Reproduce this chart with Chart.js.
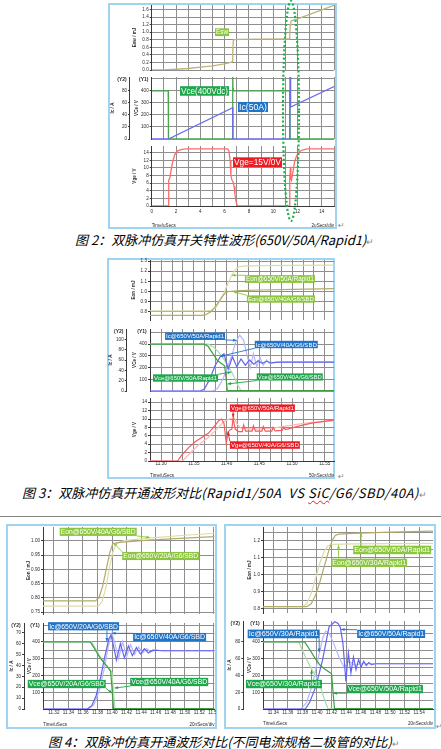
<!DOCTYPE html>
<html><head><meta charset="utf-8">
<script src="https://cdn.jsdelivr.net/npm/chart.js@4"></script>
<style>
html,body{margin:0;padding:0;background:#fff;}
body{position:relative;width:441px;height:749px;overflow:hidden;}
.box{position:absolute;border:2px solid #9fd4f0;box-sizing:border-box;}
canvas{position:absolute;}
.cap{position:absolute;white-space:nowrap;font-family:"Noto Sans CJK SC",sans-serif;font-style:italic;font-size:13px;line-height:16px;color:#000;}
.ret{position:absolute;color:#8a8a8a;font-style:normal;font-family:"DejaVu Sans",sans-serif;font-size:8px;line-height:8px;}
.sep{position:absolute;left:0;width:441px;height:1px;background:#858585;}
.wavy{text-decoration:underline wavy #e02020;text-decoration-thickness:1px;text-underline-offset:2px;}
</style></head><body>
<div class="box" style="left:108px;top:3px;width:229px;height:226px;"></div>
<div class="box" style="left:107px;top:258px;width:228px;height:221px;"></div>
<div class="sep" style="top:516px;"></div>
<div class="box" style="left:6px;top:524px;width:211px;height:205px;"></div>
<div class="box" style="left:224px;top:524px;width:212px;height:205px;"></div>
<div class="cap" style="left:75px;top:232px;">图 2：双脉冲仿真开关特性波形(650V/50A/Rapid1)<span style="font-style:normal;color:#888;font-size:9px;">↵</span></div>
<div class="cap" style="left:22px;top:485px;">图 3：双脉冲仿真开通波形对比<span style="letter-spacing:0.55px;">(Rapid1/50A&nbsp; VS <span class="wavy">SiC</span>/G6/SBD/40A)</span><span style="font-style:normal;color:#888;font-size:9px;">↵</span></div>
<div class="cap" style="left:48px;top:734px;">图 4：双脉冲仿真开通波形对比(不同电流规格二极管的对比)<span style="font-style:normal;color:#888;font-size:9px;">↵</span></div>
<div class="ret" style="left:338px;top:222px;">↵</div>
<div class="ret" style="left:338px;top:473px;">↵</div>
<div class="ret" style="left:436px;top:723px;">↵</div>
<script>
// ================= DATA =================
// ---- Figure 2 : time in µs ----
const f2EswT = [0, 1, 2, 3, 4, 5, 6, 6.5, 6.62, 6.67, 6.72, 7, 9, 11.3, 11.36, 11.4, 11.45, 11.5, 12, 13, 14, 15];
const f2Esw  = [0, 0.005, 0.02, 0.04, 0.075, 0.11, 0.16, 0.2, 0.22, 0.5, 0.8, 0.81, 0.815, 0.82, 0.9, 1.2, 1.28, 1.3, 1.35, 1.47, 1.59, 1.71];
const f2VceT = [0, 1.36, 1.38, 6.65, 6.67, 6.69, 6.72, 11.37, 11.39, 15];
const f2Vce  = [400, 400, 0, 0, 515, 420, 400, 400, 0, 0];
const f2IcT  = [0, 1.38, 6.66, 6.68, 11.36, 11.38, 11.41, 11.45, 15];
const f2Ic   = [0, 0, 52, 0, 0, 103, 56, 53, 87];
const f2VgeT = [0, 1.35, 1.38, 1.42, 1.5, 1.6, 1.75, 1.9, 2.1, 2.4, 2.8, 6.25, 6.35, 6.45, 6.52, 6.6, 6.7, 6.78, 6.85, 6.95, 7.05, 11.32, 11.36, 11.42, 11.45, 11.5, 11.6, 11.75, 11.9, 12.1, 12.4, 12.8, 15];
const f2Vge  = [0, 0, 6.3, 6.8, 7.5, 9.5, 12, 13.5, 14.4, 14.8, 15, 15, 14.5, 12, 8, 6.8, 6.3, 5.2, 3, 1, 0, 0, 7.5, 10.3, 7.2, 6.8, 8.5, 11.5, 13, 14.2, 14.7, 15, 15];
const f2MarkT = 11.46;   // dotted ellipse centre (µs)

// ---- Figure 3 : Rapid1/50A vs SiC G6/SBD/40A ----
const f3EonRT = [11.283, 11.37, 11.376, 11.384, 11.392, 11.40, 11.407, 11.413, 11.418, 11.425, 11.45, 11.5, 11.564];
const f3EonR  = [0.81, 0.81, 0.815, 0.845, 0.93, 1.05, 1.15, 1.21, 1.24, 1.25, 1.255, 1.258, 1.26];
const f3EonGT = [11.283, 11.362, 11.368, 11.376, 11.384, 11.392, 11.398, 11.403, 11.42, 11.45, 11.5, 11.564];
const f3EonG  = [0.765, 0.765, 0.772, 0.8, 0.86, 0.94, 0.985, 1.0, 1.008, 1.015, 1.022, 1.028];
const f3VceRT = [11.283, 11.372, 11.38, 11.388, 11.396, 11.402, 11.408, 11.413, 11.418, 11.422, 11.564];
const f3VceR  = [400, 400, 375, 330, 270, 215, 160, 100, 40, 4, 4];
const f3VceGT = [11.283, 11.366, 11.372, 11.379, 11.386, 11.392, 11.397, 11.399, 11.401, 11.564];
const f3VceG  = [400, 400, 380, 320, 260, 235, 215, 120, 3, 3];
const f3IcRT  = [11.283, 11.378, 11.386, 11.394, 11.401, 11.408, 11.414, 11.42, 11.426, 11.431, 11.436, 11.441, 11.446, 11.451, 11.456, 11.461, 11.466, 11.475, 11.564];
const f3IcR   = [0, 0, 5, 22, 45, 69, 95, 108, 98, 70, 45, 72, 47, 65, 50, 60, 53, 56, 56];
const f3IcGT  = [11.283, 11.36, 11.366, 11.374, 11.382, 11.39, 11.396, 11.4025, 11.409, 11.4155, 11.422, 11.4285, 11.435, 11.4415, 11.448, 11.4545, 11.461, 11.4675, 11.48, 11.564];
const f3IcG   = [0, 0, 4, 22, 48, 66, 72, 42, 66, 47, 62, 50, 60, 52, 58.5, 53.5, 57.5, 54.5, 56, 56];
const f3VgeRT = [11.283, 11.333, 11.34, 11.35, 11.36, 11.372, 11.385, 11.396, 11.404, 11.412, 11.416, 11.422, 11.44, 11.47, 11.49, 11.51, 11.53, 11.564];
const f3VgeR  = [0, 0, 1.2, 2.8, 4.2, 5.6, 7.6, 9.4, 10.0, 10.2, 8.8, 7.8, 7.6, 7.8, 8.3, 8.8, 9.2, 9.5];
const f3VgeGT = [11.283, 11.325, 11.332, 11.342, 11.352, 11.362, 11.372, 11.38, 11.388, 11.392, 11.396, 11.3995, 11.402, 11.405, 11.408, 11.41, 11.413, 11.418, 11.424, 11.426, 11.429, 11.439, 11.441, 11.444, 11.454, 11.456, 11.459, 11.469, 11.471, 11.474, 11.485, 11.487, 11.49, 11.51, 11.53, 11.564];
const f3VgeG  = [0, 0, 1.5, 3.2, 4.6, 5.6, 6.6, 8.0, 9.6, 10.0, 9.0, 4.2, 6.8, 7.4, 7.6, 10.3, 7.6, 7.0, 7.0, 8.6, 7.1, 7.1, 8.4, 7.1, 7.1, 8.2, 7.1, 7.1, 8.0, 7.2, 7.3, 8.0, 7.5, 8.3, 9.0, 9.8];

// ---- Figure 4 left : G6/SBD 20A vs 40A ----
const f4aEon20T = [11.305, 11.377, 11.382, 11.387, 11.392, 11.397, 11.401, 11.41, 11.45, 11.5, 11.541];
const f4aEon20  = [0.789, 0.789, 0.80, 0.84, 0.9, 0.96, 0.99, 0.995, 1.003, 1.01, 1.015];
const f4aEon40T = [11.305, 11.381, 11.386, 11.391, 11.396, 11.401, 11.406, 11.415, 11.45, 11.5, 11.541];
const f4aEon40  = [0.771, 0.771, 0.785, 0.83, 0.9, 0.96, 0.99, 1.0, 1.01, 1.02, 1.027];
const f4aVce20T = [11.305, 11.37, 11.376, 11.382, 11.388, 11.394, 11.398, 11.4, 11.402, 11.541];
const f4aVce20  = [400, 400, 360, 315, 280, 250, 225, 120, 2, 2];
const f4aVce40T = [11.305, 11.372, 11.378, 11.384, 11.39, 11.396, 11.4, 11.402, 11.404, 11.541];
const f4aVce40  = [400, 400, 355, 310, 272, 242, 218, 100, 2, 2];
const f4aIc20T  = [11.305, 11.366, 11.372, 11.378, 11.384, 11.39, 11.3955, 11.3985, 11.402, 11.406, 11.4115, 11.417, 11.4225, 11.428, 11.4335, 11.439, 11.4445, 11.45, 11.456, 11.47, 11.541];
const f4aIc20   = [0, 0, 3, 12, 28, 48, 64, 68, 58, 45, 60, 47, 58, 49, 56.5, 50.5, 55.5, 51.5, 54, 53.5, 53.5];
const f4aIc40T  = [11.305, 11.368, 11.375, 11.382, 11.389, 11.395, 11.4, 11.404, 11.409, 11.4145, 11.42, 11.4255, 11.431, 11.4365, 11.442, 11.4475, 11.453, 11.46, 11.47, 11.541];
const f4aIc40   = [0, 0, 4, 16, 36, 58, 70, 60, 46, 62, 48, 59, 50, 57, 51.5, 55.5, 52.5, 54, 53.5, 53.5];

// ---- Figure 4 right : Rapid1 30A vs 50A ----
const f4bEon50T = [11.326, 11.386, 11.392, 11.398, 11.404, 11.41, 11.416, 11.421, 11.425, 11.43, 11.45, 11.5, 11.559];
const f4bEon50  = [0.813, 0.813, 0.83, 0.88, 0.96, 1.05, 1.14, 1.205, 1.232, 1.24, 1.245, 1.252, 1.258];
const f4bEon30T = [11.326, 11.38, 11.386, 11.392, 11.398, 11.404, 11.41, 11.415, 11.42, 11.45, 11.559];
const f4bEon30  = [0.813, 0.813, 0.83, 0.89, 0.98, 1.07, 1.14, 1.17, 1.18, 1.183, 1.186];
const f4bVce50T = [11.326, 11.383, 11.39, 11.397, 11.404, 11.41, 11.416, 11.42, 11.422, 11.424, 11.559];
const f4bVce50  = [400, 400, 355, 305, 262, 240, 222, 210, 100, 2, 2];
const f4bVce30T = [11.326, 11.375, 11.381, 11.387, 11.393, 11.399, 11.405, 11.41, 11.415, 11.559];
const f4bVce30  = [400, 400, 340, 285, 235, 190, 130, 60, 2, 2];
const f4bIc50T  = [11.326, 11.384, 11.39, 11.3985, 11.4075, 11.4165, 11.4245, 11.429, 11.432, 11.4355, 11.4396, 11.443, 11.4465, 11.45, 11.4535, 11.457, 11.4605, 11.464, 11.4675, 11.471, 11.4745, 11.48, 11.559];
const f4bIc50   = [0, 0, 8, 27, 58, 98, 104, 102, 97, 79, 33, 67, 43, 62, 47, 59, 50, 57, 52, 55.5, 53, 54, 54];
const f4bIc30T  = [11.326, 11.378, 11.386, 11.394, 11.402, 11.408, 11.412, 11.417, 11.423, 11.43, 11.437, 11.444, 11.452, 11.46, 11.559];
const f4bIc30   = [0, 0, 8, 30, 62, 85, 93, 90, 78, 62, 50, 57, 52, 54, 54];

// ================= STYLE / HELPERS =================
const FONT = "'Liberation Sans', Arial, sans-serif";
const GRID = '#8e8e8e', AXIS = '#3a3a3a', TXT = '#2a2a2a', NONE = 'rgba(0,0,0,0)';
const C = { eonD:'#b3ab6a', eonL:'#dcdcaa', vceD:'#3f9e45', vceL:'#a8dca8', icD:'#6464f2', icL:'#b6b6fc', vgeD:'#f25c5c', vgeL:'#ffb6b6',
            lgE:'#8cc63f', lgV:'#1ea64b', lgI:'#2274c6', lgG:'#ec1c24' };
const TS = 4.6;

Chart.defaults.animation = false;
Chart.defaults.responsive = false;
Chart.defaults.devicePixelRatio = 1;
Chart.defaults.font.family = FONT;
Chart.defaults.events = [];
Chart.defaults.plugins.legend.display = false;
Chart.defaults.plugins.tooltip.enabled = false;

const near = (v, base, step) => { const q = (v - base) / step; return Math.abs(q - Math.round(q)) < 1e-4; };
const pts = (t, v) => t.map((x, i) => ({ x, y: v[i] }));

function collect(min, max, base, step, set) {
  let k = Math.ceil((min - base) / step - 1e-6);
  for (let v = base + k * step; v <= max + 1e-9; v = base + (++k) * step) set.add(+v.toFixed(6));
}

function xAx(o) {
  return {
    type: 'linear', min: o.min, max: o.max, bounds: 'data',
    afterBuildTicks: s => {
      const set = new Set();
      collect(o.min, o.max, o.gridBase, o.gridStep, set);
      if (o.show) collect(o.min, o.max, o.labelBase, o.labelStep, set);
      s.ticks = [...set].sort((a, b) => a - b).map(v => ({ value: v }));
    },
    afterFit: s => { s.height = o.height; s.paddingLeft = 0; s.paddingRight = 0; },
    grid: { color: c => (c.tick && near(c.tick.value, o.gridBase, o.gridStep)) ? GRID : NONE, lineWidth: 1, drawTicks: false },
    border: { display: !!o.show, color: AXIS },
    ticks: { display: !!o.show, autoSkip: false, maxRotation: 0, padding: o.pad || 0, font: { size: TS }, color: TXT,
      callback: v => near(v, o.labelBase, o.labelStep) ? (+v).toFixed(o.dec) : '' }
  };
}

function yAx(o) {
  const isLab = v => near(v, 0, o.labelStep) && v >= o.lmin - 1e-9 && v <= o.lmax + 1e-9;
  return {
    type: 'linear', position: 'left', min: o.min, max: o.max, bounds: 'data', weight: o.weight || 0,
    afterBuildTicks: s => {
      const set = new Set();
      collect(o.min, o.max, 0, o.gridStep, set);
      collect(o.min, o.max, 0, o.labelStep, set);
      s.ticks = [...set].sort((a, b) => a - b).map(v => ({ value: v }));
    },
    afterFit: s => { s.width = o.width; s.paddingTop = 0; s.paddingBottom = 0; },
    grid: { drawOnChartArea: o.grid !== false, lineWidth: 1, drawTicks: true, tickLength: 2,
      color: c => (c.tick && near(c.tick.value, 0, o.gridStep)) ? GRID : NONE,
      tickColor: c => (c.tick && isLab(c.tick.value)) ? AXIS : NONE },
    border: { display: true, color: AXIS },
    ticks: { padding: 1, autoSkip: false, font: { size: TS }, color: TXT,
      callback: v => isLab(v) ? (+v).toFixed(o.dec || 0) : '' },
    title: { display: true, text: o.title, color: TXT, font: { size: TS, weight: 'bold' }, padding: { top: o.tpad, bottom: 0 } }
  };
}

const annoPlugin = {
  id: 'anno',
  afterDatasetsDraw(chart, args, opts) {
    const ctx = chart.ctx;
    (opts.labels || []).forEach(L => {
      const xs = chart.scales.x, ys = chart.scales[L.axis || 'y'];
      ctx.save();
      ctx.font = `10px ${FONT}`;
      const size = 10 * (L.w - 2) / ctx.measureText(L.text).width;
      const h = size + 1.4;
      const x0 = xs.getPixelForValue(L.x), yc = ys.getPixelForValue(L.y), y0 = yc - h / 2;
      if (L.tx !== undefined) {
        const tx = xs.getPixelForValue(L.tx), ty = ys.getPixelForValue(L.ty);
        const sx = Math.min(Math.max(tx, x0), x0 + L.w), sy = Math.min(Math.max(ty, y0), y0 + h);
        const a = Math.atan2(ty - sy, tx - sx);
        ctx.strokeStyle = L.bg; ctx.fillStyle = L.bg; ctx.lineWidth = 0.9;
        ctx.beginPath(); ctx.moveTo(sx, sy); ctx.lineTo(tx, ty); ctx.stroke();
        ctx.beginPath(); ctx.moveTo(tx, ty);
        ctx.lineTo(tx - 3.5 * Math.cos(a) + 1.5 * Math.sin(a), ty - 3.5 * Math.sin(a) - 1.5 * Math.cos(a));
        ctx.lineTo(tx - 3.5 * Math.cos(a) - 1.5 * Math.sin(a), ty - 3.5 * Math.sin(a) + 1.5 * Math.cos(a));
        ctx.closePath(); ctx.fill();
      }
      ctx.fillStyle = L.bg; ctx.fillRect(x0, y0, L.w, h);
      ctx.fillStyle = '#ffffff'; ctx.font = `${size}px ${FONT}`;
      ctx.textAlign = 'center'; ctx.textBaseline = 'middle';
      ctx.fillText(L.text, x0 + L.w / 2, yc + 0.4);
      ctx.restore();
    });
  }
};
const hdrPlugin = {
  id: 'hdr',
  afterDraw(chart, args, opts) {
    const ctx = chart.ctx;
    (opts.items || []).forEach(it => {
      const s = chart.scales[it.axis];
      ctx.save(); ctx.font = `bold 5px ${FONT}`; ctx.fillStyle = TXT; ctx.textAlign = 'center'; ctx.textBaseline = 'middle';
      ctx.fillText(it.text, s.right - 8, chart.chartArea.top + 3);
      ctx.restore();
    });
  }
};
const footPlugin = {
  id: 'foot',
  afterDraw(chart, args, opts) {
    if (!opts.left) return;
    const ctx = chart.ctx, a = chart.chartArea;
    ctx.save(); ctx.font = `${TS}px ${FONT}`; ctx.fillStyle = TXT; ctx.textBaseline = 'middle';
    ctx.textAlign = 'left'; ctx.fillText(opts.left, a.left, a.bottom + opts.off);
    ctx.textAlign = 'right'; ctx.fillText(opts.right, a.right, a.bottom + opts.off);
    ctx.restore();
  }
};
Chart.register(annoPlugin, hdrPlugin, footPlugin);

function mkCanvas(l, t, r, b) {
  const c = document.createElement('canvas');
  const w = r - l, h = b - t;
  c.width = w; c.height = h;
  c.style.left = l + 'px'; c.style.top = t + 'px'; c.style.width = w + 'px'; c.style.height = h + 'px';
  document.body.appendChild(c);
  return c;
}

function panel(p) {
  const [cl, ct, cr, cb] = p.canvas;
  const cv = mkCanvas(cl, ct, cr, cb);
  const yw = p.ys.reduce((s, y) => s + y.width, 0);
  const scales = { x: xAx(p.x) };
  p.ys.forEach(y => { scales[y.id] = yAx(y); });
  const padding = { left: p.area[0] - cl - yw, top: p.area[1] - ct, right: cr - p.area[2], bottom: cb - p.area[3] - p.x.height };
  const chart = new Chart(cv, {
    type: 'line',
    data: { datasets: p.series.map(s => ({ data: pts(s.t, s.v), yAxisID: s.axis || 'y', borderColor: s.color,
      borderWidth: s.bw || 1.2, pointRadius: 0, tension: 0, fill: false })) },
    options: { layout: { padding }, scales,
      plugins: { anno: { labels: p.labels || [] }, hdr: { items: p.hdr || [] }, foot: p.foot || {} } }
  });
  return { chart, cl, ct };
}

// ================= FIGURE 2 =================
const x2 = { min: 0, max: 15, gridBase: 0, gridStep: 1, labelBase: 0, labelStep: 2, dec: 0, height: 0 };
const f2top = panel({
  canvas: [108, 3, 337, 73], area: [151.7, 5, 334, 70], x: x2,
  ys: [{ id: 'y', min: 0, max: 1.72, gridStep: 0.2, labelStep: 0.2, lmin: 0, lmax: 1.6, dec: 1, width: 22, title: 'Esw / mJ', tpad: 2.5 }],
  series: [{ t: f2EswT, v: f2Esw, color: '#bdb47a', bw: 1.3 }],
  labels: [{ text: 'Esw', x: 5.21, y: 1.0, w: 14, bg: C.lgE }]
});
panel({
  canvas: [108, 73, 337, 143], area: [151.7, 77, 334, 139], x: x2,
  ys: [{ id: 'y', min: 0, max: 515, gridStep: 100, labelStep: 100, lmin: 100, lmax: 400, width: 21.7, title: 'VCe / V', tpad: 4.2 },
       { id: 'y2', min: 0, max: 103, gridStep: 20, labelStep: 20, lmin: 0, lmax: 80, width: 21.2, title: 'Ic / A', tpad: 1.4, grid: false, weight: 1 }],
  series: [{ t: f2IcT, v: f2Ic, axis: 'y2', color: '#6b6bf0', bw: 1.3 }, { t: f2VceT, v: f2Vce, color: '#45a64b', bw: 1.3 }],
  labels: [{ text: 'Vce(400Vdc)', x: 2.33, y: 399, w: 49, bg: C.lgV }, { text: 'Ic(50A)', x: 7.1, y: 266, w: 30, bg: C.lgI }],
  hdr: [{ axis: 'y2', text: '(Y2)' }, { axis: 'y', text: '(Y1)' }]
});
const f2bot = panel({
  canvas: [108, 143, 337, 229], area: [151.7, 146, 334, 206], x: Object.assign({}, x2, { show: true, height: 12, pad: 3 }),
  ys: [{ id: 'y', min: 0, max: 15.75, gridStep: 2, labelStep: 2, lmin: 0, lmax: 14, width: 22, title: 'Vge / V', tpad: 2.5 }],
  series: [{ t: f2VgeT, v: f2Vge, color: '#ff6a6a', bw: 1.3 }],
  labels: [{ text: 'Vge=15V/0V', x: 6.69, y: 11.5, w: 49, bg: C.lgG }],
  foot: { left: 'Time/uSecs', right: '2uSecs/div', off: 20 }
});
// dotted ellipse marking the turn-on instant
(function () {
  const ox = 100, oy = 0;
  const ov = mkCanvas(ox, oy, 345, 236);
  const g = ov.getContext('2d');
  const cx = f2bot.cl + f2bot.chart.scales.x.getPixelForValue(f2MarkT) - ox;
  const top = f2top.ct + f2top.chart.chartArea.top - 4 - oy;
  const bot = f2bot.ct + f2bot.chart.chartArea.bottom + 15 - oy;
  g.strokeStyle = '#1fae4a'; g.lineWidth = 2.2; g.setLineDash([2, 2.2]);
  g.beginPath(); g.ellipse(cx, (top + bot) / 2, 8, (bot - top) / 2, 0, 0, Math.PI * 2); g.stroke();
})();

// ================= FIGURE 3 =================
const x3 = { min: 11.283, max: 11.564, gridBase: 11.30, gridStep: 0.05 / 3, labelBase: 11.30, labelStep: 0.05, dec: 2, height: 0 };
panel({
  canvas: [107, 258, 335, 324], area: [150, 260, 334, 320], x: x3,
  ys: [{ id: 'y', min: 0.72, max: 1.31, gridStep: 0.1, labelStep: 0.1, lmin: 0.8, lmax: 1.3, dec: 1, width: 20, title: 'Eon / mJ', tpad: 1.2 }],
  series: [{ t: f3EonGT, v: f3EonG, color: C.eonD }, { t: f3EonRT, v: f3EonR, color: C.eonL }],
  labels: [{ text: 'Eon@650V/50A/Rapid1', x: 11.428, y: 1.123, w: 70, bg: C.lgE, tx: 11.408, ty: 1.16 },
           { text: 'Eon@650V/40A/G6/SBD', x: 11.431, y: 0.926, w: 68, bg: C.lgE, tx: 11.41, ty: 1.0 }]
});
panel({
  canvas: [107, 324, 335, 395], area: [150, 329, 334, 391], x: x3,
  ys: [{ id: 'y', min: 0, max: 530, gridStep: 100, labelStep: 100, lmin: 100, lmax: 400, width: 23.3, title: 'VCe / V', tpad: 5.5 },
       { id: 'y2', min: 0, max: 120, gridStep: 20, labelStep: 20, lmin: 0, lmax: 100, width: 19.6, title: 'Ic / A', tpad: 1.1, grid: false, weight: 1 }],
  series: [{ t: f3VceGT, v: f3VceG, color: C.vceD }, { t: f3IcGT, v: f3IcG, axis: 'y2', color: C.icD },
           { t: f3VceRT, v: f3VceR, color: C.vceL }, { t: f3IcRT, v: f3IcR, axis: 'y2', color: C.icL }],
  labels: [{ text: 'Ic@650V/50A/Rapid1', x: 11.306, y: 106, axis: 'y2', w: 60, bg: C.lgI, tx: 11.415, ty: 98 },
           { text: 'Ic@650V/40A/G6/SBD', x: 11.443, y: 90, axis: 'y2', w: 63, bg: C.lgI, tx: 11.39, ty: 67 },
           { text: 'Vce@650V/50A/Rapid1', x: 11.2876, y: 111, w: 65, bg: C.lgV, tx: 11.407, ty: 162 },
           { text: 'Vce@650V/40A/G6/SBD', x: 11.446, y: 120, w: 66, bg: C.lgV, tx: 11.4015, ty: 60 }],
  hdr: [{ axis: 'y2', text: '(Y2)' }, { axis: 'y', text: '(Y1)' }]
});
panel({
  canvas: [107, 395, 335, 479], area: [150, 398, 334, 461], x: Object.assign({}, x3, { show: true, height: 8, pad: 0 }),
  ys: [{ id: 'y', min: 0, max: 15, gridStep: 2, labelStep: 2, lmin: 0, lmax: 14, width: 20, title: 'Vge / V', tpad: 2.2 }],
  series: [{ t: f3VgeGT, v: f3VgeG, color: C.vgeD }, { t: f3VgeRT, v: f3VgeR, color: C.vgeL }],
  labels: [{ text: 'Vge@650V/50A/Rapid1', x: 11.405, y: 12.6, w: 65, bg: C.lgG, tx: 11.41, ty: 10.4 },
           { text: 'Vge@650V/40A/G6/SBD', x: 11.405, y: 3.8, w: 70, bg: C.lgG, tx: 11.402, ty: 7.0 }],
  foot: { left: 'Time/uSecs', right: '50nSecs/div', off: 15 }
});

// ================= FIGURE 4 LEFT =================
const x4a = { min: 11.305, max: 11.541, gridBase: 11.32, gridStep: 0.02, labelBase: 11.32, labelStep: 0.02, dec: 2, height: 0 };
panel({
  canvas: [8, 525, 216, 618], area: [43, 527, 214.5, 614], x: x4a,
  ys: [{ id: 'y', min: 0.743, max: 1.049, gridStep: 0.05, labelStep: 0.05, lmin: 0.75, lmax: 1.0, dec: 2, width: 18, title: 'Eon / mJ', tpad: 1.2 }],
  series: [{ t: f4aEon20T, v: f4aEon20, color: C.eonD }, { t: f4aEon40T, v: f4aEon40, color: C.eonL }],
  labels: [{ text: 'Eon@650V/40A/G6/SBD', x: 11.328, y: 1.032, w: 77, bg: C.lgE, tx: 11.452, ty: 1.012 },
           { text: 'Eon@650V/20A/G6/SBD', x: 11.414, y: 0.947, w: 77, bg: C.lgE, tx: 11.402, ty: 0.994 }]
});
panel({
  canvas: [8, 618, 216, 728], area: [43, 623, 214.5, 709], x: Object.assign({}, x4a, { show: true, height: 8, pad: 0.5 }),
  ys: [{ id: 'y', min: 0, max: 513, gridStep: 50, labelStep: 100, lmin: 100, lmax: 400, width: 19, title: 'VCe / V', tpad: 3.2 },
       { id: 'y2', min: 0, max: 79, gridStep: 10, labelStep: 10, lmin: 0, lmax: 70, width: 16, title: 'Ic / A', tpad: 1.2, grid: false, weight: 1 }],
  series: [{ t: f4aVce20T, v: f4aVce20, color: C.vceD }, { t: f4aIc20T, v: f4aIc20, axis: 'y2', color: C.icD },
           { t: f4aVce40T, v: f4aVce40, color: C.vceL }, { t: f4aIc40T, v: f4aIc40, axis: 'y2', color: C.icL }],
  labels: [{ text: 'Ic@650V/20A/G6/SBD', x: 11.312, y: 76, axis: 'y2', w: 71, bg: C.lgI, tx: 11.393, ty: 62 },
           { text: 'Ic@650V/40A/G6/SBD', x: 11.429, y: 66, axis: 'y2', w: 73, bg: C.lgI, tx: 11.4, ty: 69.5 },
           { text: 'Vce@650V/20A/G6/SBD', x: 11.284, y: 149, w: 78, bg: C.lgV, tx: 11.4, ty: 95 },
           { text: 'Vce@650V/40A/G6/SBD', x: 11.425, y: 161, w: 78, bg: C.lgV, tx: 11.4035, ty: 125 }],
  hdr: [{ axis: 'y2', text: '(Y2)' }, { axis: 'y', text: '(Y1)' }],
  foot: { left: 'Time/uSecs', right: '20nSecs/div', off: 16 }
});

// ================= FIGURE 4 RIGHT =================
const x4b = { min: 11.326, max: 11.559, gridBase: 11.34, gridStep: 0.02, labelBase: 11.34, labelStep: 0.02, dec: 2, height: 0 };
panel({
  canvas: [226, 525, 435, 617], area: [263, 527, 433, 613], x: x4b,
  ys: [{ id: 'y', min: 0.776, max: 1.282, gridStep: 0.05, labelStep: 0.1, lmin: 0.8, lmax: 1.2, dec: 1, width: 18, title: 'Eon / mJ', tpad: 1.5 }],
  series: [{ t: f4bEon50T, v: f4bEon50, color: C.eonD }, { t: f4bEon30T, v: f4bEon30, color: C.eonL }],
  labels: [{ text: 'Eon@650V/50A/Rapid1', x: 11.4496, y: 1.147, w: 78, bg: C.lgE, tx: 11.4604, ty: 1.245 },
           { text: 'Eon@650V/30A/Rapid1', x: 11.4194, y: 1.071, w: 76, bg: C.lgE, tx: 11.4295, ty: 1.176 }]
});
panel({
  canvas: [226, 617, 435, 728], area: [263, 621, 433, 709], x: Object.assign({}, x4b, { show: true, height: 8, pad: 0.5 }),
  ys: [{ id: 'y', min: 0, max: 525, gridStep: 50, labelStep: 100, lmin: 100, lmax: 400, width: 19.7, title: 'VCe / V', tpad: 3.9 },
       { id: 'y2', min: 0, max: 105, gridStep: 20, labelStep: 20, lmin: 0, lmax: 80, width: 17.3, title: 'Ic / A', tpad: 0.9, grid: false, weight: 1 }],
  series: [{ t: f4bVce50T, v: f4bVce50, color: C.vceD }, { t: f4bIc50T, v: f4bIc50, axis: 'y2', color: C.icD },
           { t: f4bVce30T, v: f4bVce30, color: C.vceL }, { t: f4bIc30T, v: f4bIc30, axis: 'y2', color: C.icL }],
  labels: [{ text: 'Ic@650V/30A/Rapid1', x: 11.305, y: 89.6, axis: 'y2', w: 72, bg: C.lgI, tx: 11.403, ty: 68 },
           { text: 'Ic@650V/50A/Rapid1', x: 11.455, y: 89.6, axis: 'y2', w: 68, bg: C.lgI, tx: 11.433, ty: 95 },
           { text: 'Vce@650V/30A/Rapid1', x: 11.3026, y: 149, w: 76, bg: C.lgV, tx: 11.3925, ty: 232 },
           { text: 'Vce@650V/50A/Rapid1', x: 11.441, y: 119, w: 76, bg: C.lgV, tx: 11.4225, ty: 94 }],
  hdr: [{ axis: 'y2', text: '(Y2)' }, { axis: 'y', text: '(Y1)' }],
  foot: { left: 'Time/uSecs', right: '20nSecs/div', off: 15 }
});
</script>
</body></html>
